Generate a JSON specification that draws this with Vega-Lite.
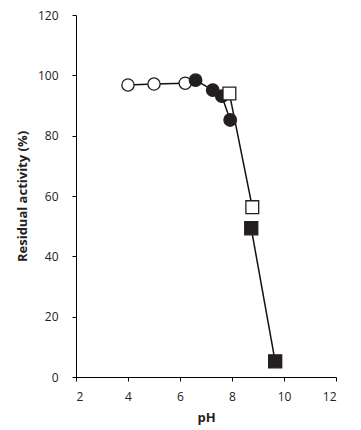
{
  "$schema": "https://vega.github.io/schema/vega-lite/v6.json",
  "autosize": "none",
  "width": 260,
  "height": 362,
  "padding": {"left": 76, "top": 15, "right": 25, "bottom": 53},
  "background": "white",
  "config": {"view": {"stroke": null}, "font": "Open Sans"},
  "data": {"values": [
    {"pH": 4.0, "activity": 96.8, "series": "oc"},
    {"pH": 5.0, "activity": 97.1, "series": "oc"},
    {"pH": 6.2, "activity": 97.4, "series": "oc"},
    {"pH": 6.6, "activity": 98.4, "series": "fc"},
    {"pH": 7.26, "activity": 95.1, "series": "fc"},
    {"pH": 7.61, "activity": 93.1, "series": "fc"},
    {"pH": 7.93, "activity": 85.2, "series": "fc"},
    {"pH": 7.9, "activity": 94.0, "series": "os"},
    {"pH": 8.78, "activity": 56.3, "series": "os"},
    {"pH": 8.74, "activity": 49.3, "series": "fs"},
    {"pH": 9.66, "activity": 5.2, "series": "fs"}
  ]},
  "encoding": {
    "x": {"field": "pH", "type": "quantitative", "scale": {"domain": [2, 12], "nice": false},
      "axis": {"values": [2, 4, 6, 8, 10, 12], "grid": false, "domainColor": "#000", "tickColor": "#000", "tickSize": 4,
        "labelFontSize": 12, "labelColor": "#222", "labelPadding": 10, "title": "pH", "titleFontSize": 13, "titleFontWeight": "bold", "titleColor": "#222", "titlePadding": 9}},
    "y": {"field": "activity", "type": "quantitative", "scale": {"domain": [0, 120], "nice": false},
      "axis": {"values": [0, 20, 40, 60, 80, 100, 120], "grid": false, "domainColor": "#000", "tickColor": "#000", "tickSize": 4,
        "labelFontSize": 12, "labelColor": "#222", "labelPadding": 14, "title": "Residual activity (%)", "titleFontSize": 13, "titleFontWeight": "bold", "titleColor": "#222", "titlePadding": 8}}
  },
  "layer": [
    {"mark": {"type": "line", "color": "#111", "strokeWidth": 1.5},
     "encoding": {"detail": {"field": "series", "type": "nominal"}}},
    {"mark": {"type": "point", "filled": true, "stroke": "#231f20", "strokeWidth": 1.3, "opacity": 1},
     "encoding": {
       "shape": {"field": "series", "type": "nominal", "scale": {"domain": ["oc", "fc", "os", "fs"], "range": ["circle", "circle", "square", "square"]}, "legend": null},
       "fill": {"field": "series", "type": "nominal", "scale": {"domain": ["oc", "fc", "os", "fs"], "range": ["#ffffff", "#231f20", "#ffffff", "#231f20"]}, "legend": null},
       "size": {"field": "series", "type": "nominal", "scale": {"domain": ["oc", "fc", "os", "fs"], "range": [150, 170, 170, 170]}, "legend": null}
     }}
  ]
}
